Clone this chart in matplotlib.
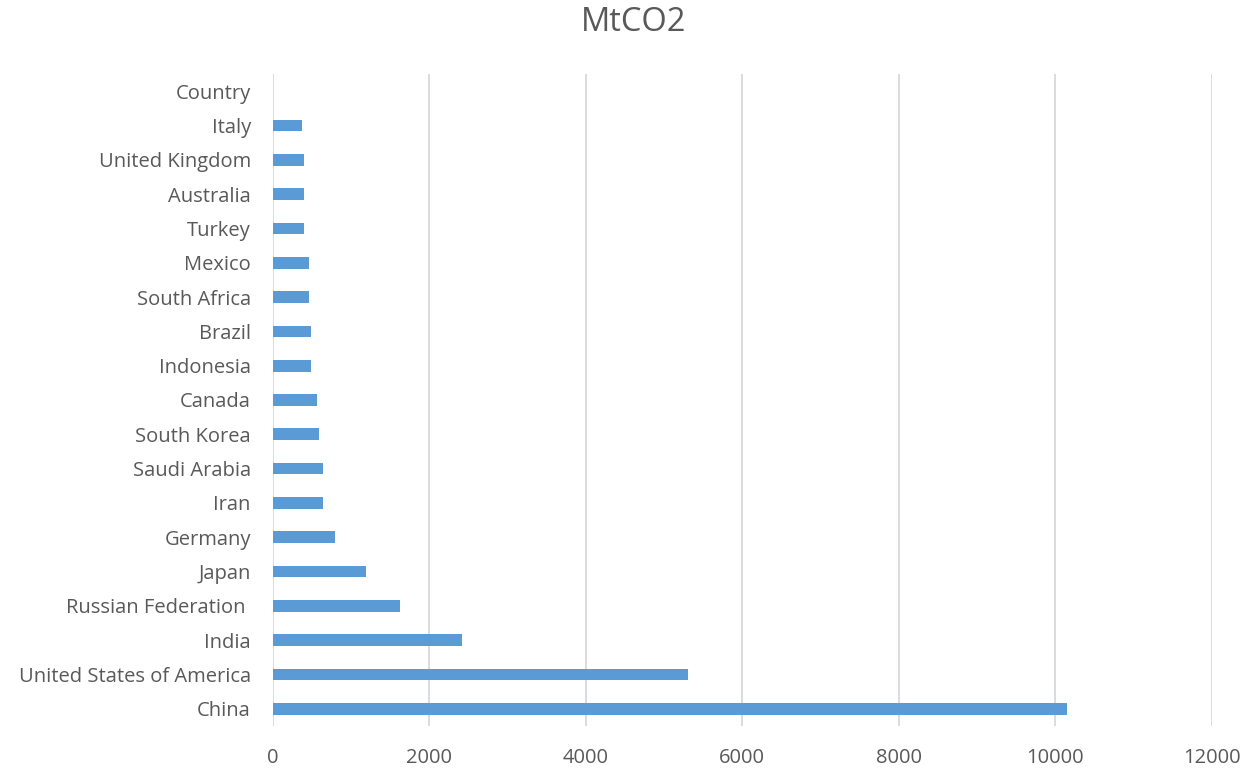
import numpy as np
import matplotlib
matplotlib.use("Agg")
import matplotlib.pyplot as plt

plt.rcParams['font.family'] = ['Open Sans', 'DejaVu Sans']

# данные снизу вверх, как на графике
countries = ["China", "United States of America", "India", "Russian Federation ",
             "Japan", "Germany", "Iran", "Saudi Arabia", "South Korea", "Canada",
             "Indonesia", "Brazil", "South Africa", "Mexico", "Turkey", "Australia",
             "United Kingdom", "Italy", "Country"]
mtco2 = [10150, 5300, 2420, 1620, 1190, 795, 640, 640, 590, 565,
         490, 490, 465, 465, 390, 390, 390, 365, 0]
x_ticks = [0, 2000, 4000, 6000, 8000, 10000, 12000]

text_color = '#595959'

fig = plt.figure(figsize=(12.49, 7.69), dpi=100)
ax = fig.add_axes([0.2186, 0.0559, 0.9701 - 0.2186, 0.9038 - 0.0559])

y = np.arange(len(countries))
ax.barh(y, mtco2, height=0.34, color='#5B9BD5', zorder=3)

ax.set_xlim(0, 12000)
ax.set_ylim(-0.5, len(countries) - 0.5)
ax.set_xticks(x_ticks)
ax.set_xticklabels([str(t) for t in x_ticks])
ax.set_yticks(y)
ax.set_yticklabels(countries)

ax.grid(True, axis='x', color='#D9D9D9', linewidth=1.3, zorder=0)
for s in ax.spines.values():
    s.set_visible(False)
ax.tick_params(axis='both', length=0, colors=text_color, labelsize=14.5)
ax.tick_params(axis='x', pad=16)
ax.tick_params(axis='y', pad=16)

fig.text(0.507, 0.971, 'MtCO2', ha='center', va='center', fontsize=23.5, color=text_color)

fig.savefig('out.png', dpi=100)
